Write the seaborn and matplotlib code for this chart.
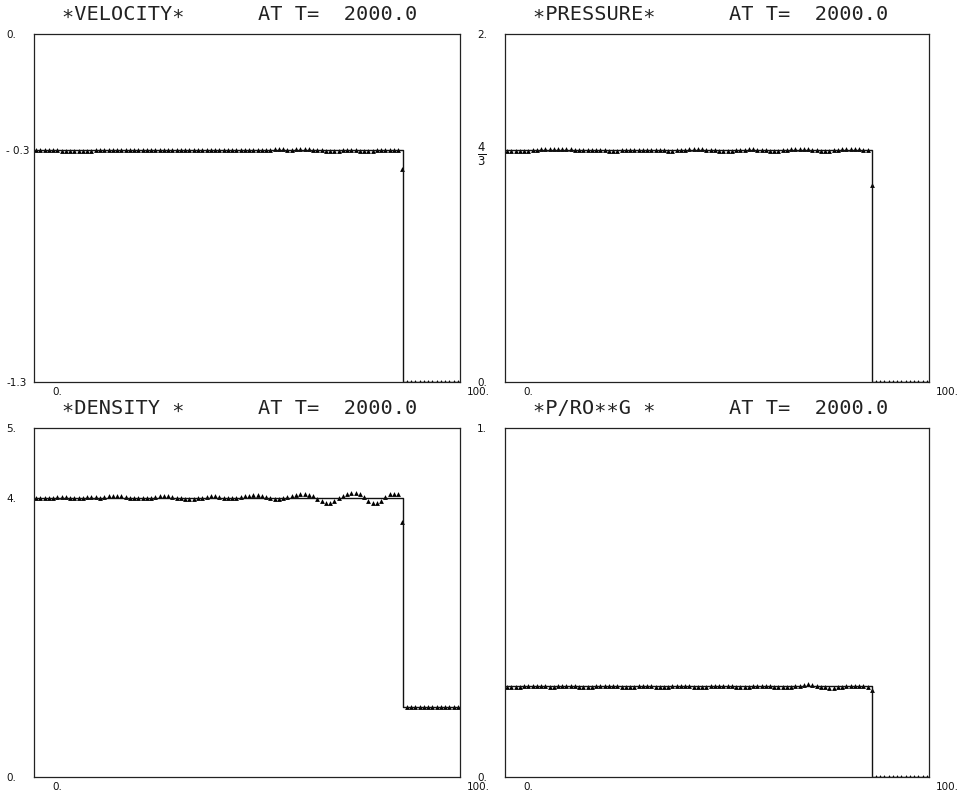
import numpy as np
import pandas as pd
import matplotlib
matplotlib.use("Agg")
import matplotlib.pyplot as plt
import seaborn as sns

# 100 zones on [0, 100]; shock sits inside zone 86
x_cells = np.arange(100) + 0.5
X_SHOCK = 86.6
TIME_LABEL = "2000.0"

# zones 0..85 behind the shock, then the zone in the shock,
# then the 13 undisturbed zones ahead of it
velocity_post = [
    -0.300, -0.300, -0.301, -0.301, -0.301, -0.302,
    -0.303, -0.304, -0.305, -0.305, -0.305, -0.305, -0.304, -0.303, -0.302, -0.301,
    -0.300, -0.299, -0.299, -0.299, -0.300, -0.300, -0.301, -0.301, -0.301, -0.300,
    -0.300, -0.299, -0.299, -0.299, -0.300, -0.301, -0.302, -0.302, -0.302, -0.301,
    -0.300, -0.299, -0.298, -0.298, -0.299, -0.300, -0.301, -0.301, -0.300, -0.299,
    -0.298, -0.298, -0.298, -0.299, -0.300, -0.301, -0.301, -0.300, -0.299, -0.298,
    -0.297, -0.297, -0.297, -0.298, -0.298, -0.297, -0.296, -0.296, -0.297, -0.298,
    -0.300, -0.302, -0.303, -0.304, -0.304, -0.303, -0.302, -0.301, -0.301, -0.302,
    -0.303, -0.304, -0.304, -0.303, -0.302, -0.301, -0.301, -0.300, -0.299, -0.299,
]
velocity_mid = -0.38
velocity_pre = [-1.3] * 13

pressure_post = [
    1.330, 1.327, 1.325, 1.325, 1.327, 1.330,
    1.333, 1.336, 1.338, 1.339, 1.339, 1.339, 1.338, 1.338, 1.337, 1.337,
    1.336, 1.336, 1.335, 1.335, 1.334, 1.333, 1.332, 1.331, 1.330, 1.330,
    1.330, 1.331, 1.332, 1.334, 1.335, 1.336, 1.336, 1.335, 1.334, 1.333,
    1.332, 1.331, 1.330, 1.330, 1.331, 1.333, 1.335, 1.337, 1.338, 1.338,
    1.337, 1.335, 1.333, 1.331, 1.329, 1.328, 1.328, 1.330, 1.332, 1.334,
    1.336, 1.337, 1.337, 1.336, 1.334, 1.332, 1.330, 1.329, 1.329, 1.331,
    1.334, 1.337, 1.339, 1.340, 1.339, 1.337, 1.334, 1.331, 1.329, 1.328,
    1.329, 1.332, 1.336, 1.340, 1.342, 1.342, 1.340, 1.337, 1.335, 1.334,
]
pressure_mid = 1.13
pressure_pre = [0.0] * 13

density_post = [
    3.99, 3.99, 3.99, 4.00, 4.00, 4.01,
    4.01, 4.01, 4.00, 4.00, 4.00, 4.00, 4.01, 4.01, 4.01, 4.00,
    4.01, 4.02, 4.03, 4.03, 4.02, 4.01, 4.00, 3.99, 3.99, 3.99,
    3.99, 4.00, 4.01, 4.02, 4.02, 4.02, 4.01, 4.00, 3.99, 3.98,
    3.98, 3.98, 3.99, 4.00, 4.01, 4.02, 4.02, 4.01, 4.00, 3.99,
    3.99, 4.00, 4.01, 4.02, 4.03, 4.04, 4.04, 4.03, 4.01, 3.99,
    3.98, 3.98, 3.99, 4.01, 4.03, 4.04, 4.05, 4.05, 4.04, 4.02,
    3.98, 3.95, 3.93, 3.93, 3.95, 3.99, 4.03, 4.06, 4.07, 4.07,
    4.05, 4.01, 3.96, 3.93, 3.93, 3.96, 4.01, 4.05, 4.06, 4.06,
]
density_mid = 3.65
density_pre = [1.0] * 13

pog_post = [
    0.259, 0.258, 0.258, 0.259, 0.260, 0.261,
    0.261, 0.261, 0.260, 0.260, 0.259, 0.259, 0.260, 0.261, 0.261, 0.261,
    0.260, 0.259, 0.258, 0.258, 0.259, 0.260, 0.261, 0.262, 0.262, 0.261,
    0.260, 0.259, 0.258, 0.258, 0.259, 0.260, 0.261, 0.261, 0.260, 0.259,
    0.258, 0.258, 0.259, 0.260, 0.261, 0.261, 0.261, 0.260, 0.259, 0.258,
    0.258, 0.259, 0.260, 0.261, 0.262, 0.262, 0.261, 0.260, 0.259, 0.258,
    0.258, 0.259, 0.260, 0.261, 0.262, 0.262, 0.261, 0.259, 0.258, 0.257,
    0.257, 0.258, 0.260, 0.262, 0.264, 0.265, 0.264, 0.262, 0.259, 0.257,
    0.256, 0.256, 0.257, 0.259, 0.261, 0.262, 0.262, 0.261, 0.260, 0.259,
]
pog_mid = 0.25
pog_pre = [0.0] * 13

panels = [
    # title, post, mid, pre, exact (behind, ahead), ylim, ticks, ticklabels
    ("\u2217VELOCITY\u2217", velocity_post, velocity_mid, velocity_pre,
     (-0.3, -1.3), (-1.3, 0.2), [-1.3, -0.3, 0.2], ["-1.3", "- 0.3", "0."]),
    ("\u2217PRESSURE\u2217", pressure_post, pressure_mid, pressure_pre,
     (4 / 3, 0.0), (0.0, 2.0), [0.0, 4 / 3, 2.0], ["0.", r"$\frac{4}{3}$", "2."]),
    ("\u2217DENSITY \u2217", density_post, density_mid, density_pre,
     (4.0, 1.0), (0.0, 5.0), [0.0, 4.0, 5.0], ["0.", "4.", "5."]),
    ("\u2217P/RO\u2217\u2217G \u2217", pog_post, pog_mid, pog_pre,
     (0.26, 0.0), (0.0, 1.0), [0.0, 1.0], ["0.", "1."]),
]

sns.set_style("white")
plt.rcParams["font.family"] = ["DejaVu Sans"]

fig = plt.figure(figsize=(9.65, 7.93), dpi=100)
rects = [
    [0.0352, 0.5183, 0.4415, 0.4388],
    [0.5233, 0.5183, 0.4394, 0.4388],
    [0.0352, 0.0202, 0.4415, 0.4401],
    [0.5233, 0.0202, 0.4394, 0.4401],
]

for rect, (title, post, mid, pre, exact, ylim, ticks, labels) in zip(rects, panels):
    ax = fig.add_axes(rect)
    values = list(post) + [mid] + list(pre)
    df = pd.DataFrame({"x": x_cells, "value": values})

    # exact step solution
    step = pd.DataFrame({
        "x": [0.0, X_SHOCK, X_SHOCK, 100.0],
        "value": [exact[0], exact[0], exact[1], exact[1]],
    })
    sns.lineplot(data=step, x="x", y="value", ax=ax, color="#111111", lw=1.0,
                 sort=False, estimator=None)
    # computed zone values
    sns.scatterplot(data=df, x="x", y="value", ax=ax, marker="^", color="black",
                    s=12, linewidth=0)

    ax.set_xlim(0, 100)
    ax.set_ylim(*ylim)
    ax.set_xlabel("")
    ax.set_ylabel("")
    ax.set_xticks([])
    ax.set_yticks(ticks, labels)
    ax.tick_params(axis="y", length=0, pad=20, labelsize=7.5, labelcolor="#111111")
    for lab in ax.get_yticklabels():
        lab.set_horizontalalignment("left")
        if "frac" in lab.get_text():
            lab.set_fontsize(12)
    for sp in ax.spines.values():
        sp.set_visible(True)
        sp.set_color("#222222")
        sp.set_linewidth(0.9)

    ax.annotate("0.", xy=(0, 0), xycoords="axes fraction", xytext=(13, -7),
                textcoords="offset points", ha="left", va="center", fontsize=7.5,
                color="#111111")
    ax.annotate("100.", xy=(1, 0), xycoords="axes fraction", xytext=(5, -7),
                textcoords="offset points", ha="left", va="center", fontsize=7.5,
                color="#111111")

    ax.text(0.065, 1.055, f"{title}      AT T=  {TIME_LABEL}", transform=ax.transAxes,
            ha="left", va="center", fontsize=14.6, color="#222222",
            family=["DejaVu Sans Mono", "DejaVu Sans"])

fig.savefig("out.png", dpi=100)
